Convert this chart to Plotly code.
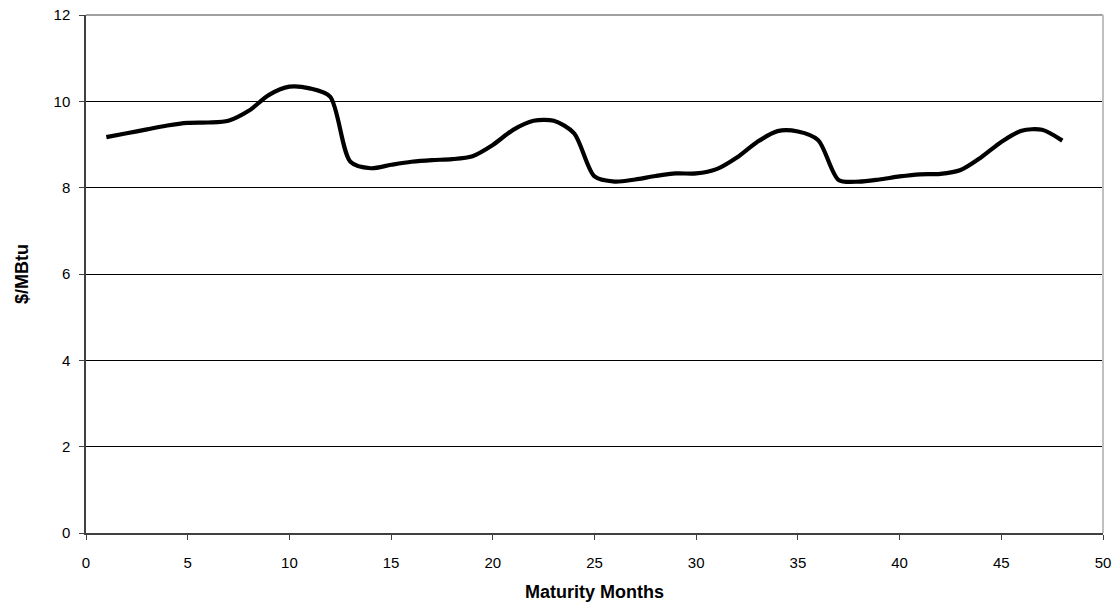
import plotly.graph_objects as go

months = list(range(1, 49))
prices = [9.17, 9.26, 9.35, 9.44, 9.50, 9.51, 9.55, 9.78, 10.15, 10.34,
          10.30, 10.11, 8.60, 8.45, 8.53, 8.60, 8.64, 8.66, 8.73, 8.99,
          9.34, 9.55, 9.55, 9.26, 8.26, 8.14, 8.19, 8.27, 8.33, 8.33,
          8.43, 8.70, 9.06, 9.31, 9.30, 9.10, 8.18, 8.14, 8.19, 8.26,
          8.31, 8.32, 8.41, 8.70, 9.06, 9.32, 9.34, 9.09]

x_ticks = [0, 5, 10, 15, 20, 25, 30, 35, 40, 45, 50]
y_ticks = [0, 2, 4, 6, 8, 10, 12]

font_family = "Liberation Sans, Arial, sans-serif"

fig = go.Figure()
fig.add_trace(go.Scatter(
    x=months, y=prices, mode="lines",
    line=dict(color="black", width=4.2, shape="spline", smoothing=0.8),
    showlegend=False,
))

fig.update_layout(
    width=1120, height=606,
    margin=dict(l=86, r=17, t=15, b=73, autoexpand=False),
    paper_bgcolor="white", plot_bgcolor="white",
    font=dict(family=font_family, size=15, color="black"),
    xaxis=dict(
        range=[0, 50], tickvals=x_ticks, showgrid=False, zeroline=False,
        automargin=False,
        showline=True, linecolor="#404040", linewidth=1.5,
        ticks="outside", ticklen=5, tickcolor="#404040",
        ticklabelstandoff=10,
        title=dict(text="<b>Maturity Months</b>", font=dict(size=18), standoff=16),
    ),
    yaxis=dict(
        range=[0, 12], tickvals=y_ticks, showgrid=True, gridcolor="black",
        gridwidth=1, zeroline=False, automargin=False,
        showline=True, linecolor="#404040", linewidth=1.5,
        ticks="outside", ticklen=5, tickcolor="#404040",
        ticklabelstandoff=6,
        title=dict(text="<b>$/MBtu</b>", font=dict(size=18), standoff=20),
    ),
    shapes=[
        dict(type="line", xref="paper", yref="paper", x0=0, x1=1, y0=1, y1=1,
             line=dict(color="#808080", width=1.5)),
        dict(type="line", xref="paper", yref="paper", x0=1, x1=1, y0=0, y1=1,
             line=dict(color="#c0c0c0", width=2)),
    ],
)

fig.write_html("out.html",
               config={"displayModeBar": False},
               post_script="document.body.style.margin='0';document.body.style.overflow='hidden';")
